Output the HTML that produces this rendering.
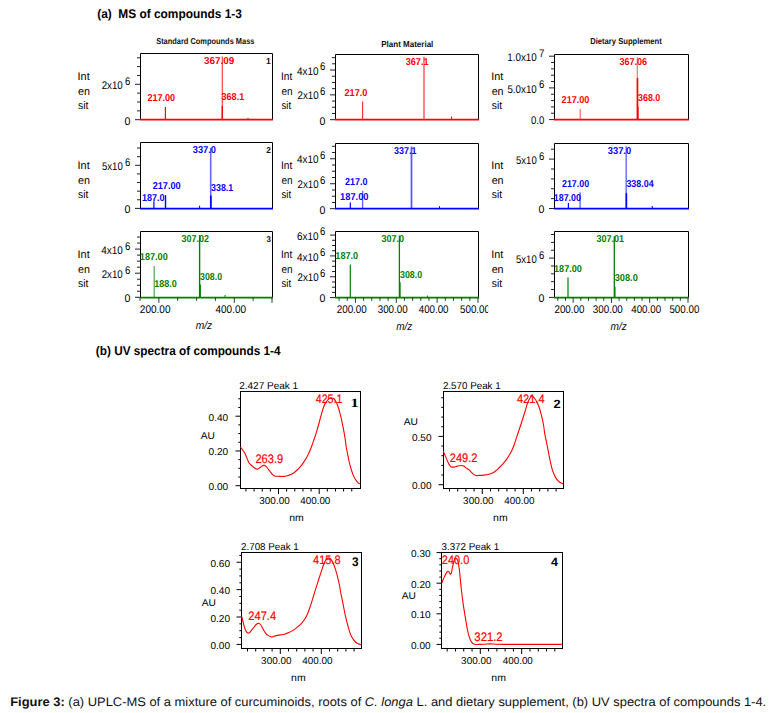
<!DOCTYPE html>
<html><head><meta charset="utf-8"><style>
html,body{margin:0;padding:0;background:#fff;}
text{font-kerning:none;text-rendering:geometricPrecision;}
svg{display:block;font-family:"Liberation Sans",sans-serif;}
</style></head><body>
<svg width="777" height="713" viewBox="0 0 777 713">
<rect width="777" height="713" fill="#fff"/>
<text x="97.21" y="18.10" font-size="12.6" fill="#000" font-weight="bold" textLength="144.62" lengthAdjust="spacingAndGlyphs">(a)&#160; MS of compounds 1-3</text>
<text x="156.19" y="43.90" font-size="8.6" fill="#111" font-weight="bold" textLength="98.22" lengthAdjust="spacingAndGlyphs">Standard Compounds Mass</text>
<text x="381.26" y="46.60" font-size="8.6" fill="#111" font-weight="bold" textLength="52.10" lengthAdjust="spacingAndGlyphs">Plant Material</text>
<text x="590.19" y="43.90" font-size="8.6" fill="#111" font-weight="bold" textLength="71.60" lengthAdjust="spacingAndGlyphs">Dietary Supplement</text>
<text x="95.81" y="355.40" font-size="12.6" fill="#000" font-weight="bold" textLength="184.75" lengthAdjust="spacingAndGlyphs">(b) UV spectra of compounds 1-4</text>
<path d="M140.5,119.6 V53.5 H272.5 V119.6" fill="none" stroke="#000" stroke-width="1"/>
<line x1="135.00" y1="119.70" x2="140.00" y2="119.70" stroke="#222" stroke-width="1"/>
<line x1="137.00" y1="110.85" x2="140.00" y2="110.85" stroke="#222" stroke-width="1"/>
<line x1="137.00" y1="102.00" x2="140.00" y2="102.00" stroke="#222" stroke-width="1"/>
<line x1="137.00" y1="93.15" x2="140.00" y2="93.15" stroke="#222" stroke-width="1"/>
<line x1="135.00" y1="84.30" x2="140.00" y2="84.30" stroke="#222" stroke-width="1"/>
<line x1="137.00" y1="75.45" x2="140.00" y2="75.45" stroke="#222" stroke-width="1"/>
<line x1="137.00" y1="66.60" x2="140.00" y2="66.60" stroke="#222" stroke-width="1"/>
<line x1="137.00" y1="57.75" x2="140.00" y2="57.75" stroke="#222" stroke-width="1"/>
<text x="101.71" y="88.90" font-size="11.0" fill="#000" textLength="21.07" lengthAdjust="spacingAndGlyphs">2x10</text>
<text x="124.92" y="84.70" font-size="11.0" fill="#000" textLength="5.30" lengthAdjust="spacingAndGlyphs">6</text>
<text x="124.48" y="124.50" font-size="11.0" fill="#000" textLength="5.93" lengthAdjust="spacingAndGlyphs">0</text>
<text x="77.60" y="79.80" font-size="11" fill="#000" textLength="12.08" lengthAdjust="spacingAndGlyphs">Int</text>
<text x="77.94" y="94.80" font-size="11" fill="#000" textLength="11.95" lengthAdjust="spacingAndGlyphs">en</text>
<text x="78.11" y="108.90" font-size="11" fill="#000" textLength="10.26" lengthAdjust="spacingAndGlyphs">sit</text>
<line x1="140.00" y1="119.60" x2="273.00" y2="119.60" stroke="#ff0000" stroke-width="1.6"/>
<line x1="165.40" y1="107.10" x2="165.40" y2="119.60" stroke="#ff0000" stroke-width="1.2" stroke-opacity="1"/>
<line x1="222.30" y1="56.40" x2="222.30" y2="119.60" stroke="#ff0000" stroke-width="1.2" stroke-opacity="0.75"/>
<line x1="222.30" y1="105.90" x2="222.30" y2="119.60" stroke="#ff0000" stroke-width="1.4" stroke-opacity="1"/>
<line x1="248.00" y1="117.80" x2="248.00" y2="119.60" stroke="#ff0000" stroke-width="1" stroke-opacity="1"/>
<text x="204.07" y="63.80" font-size="10.0" fill="#ff0000" font-weight="bold" textLength="30.29" lengthAdjust="spacingAndGlyphs">367.09</text>
<text x="147.39" y="101.30" font-size="10.0" fill="#ff0000" font-weight="bold" textLength="27.69" lengthAdjust="spacingAndGlyphs">217.00</text>
<text x="221.49" y="100.30" font-size="10.0" fill="#ff0000" font-weight="bold" textLength="22.76" lengthAdjust="spacingAndGlyphs">368.1</text>
<text x="266.06" y="63.50" font-size="8.6" fill="#111" font-weight="bold" textLength="4.78" lengthAdjust="spacingAndGlyphs">1</text>
<path d="M140.5,208.6 V142.5 H272.5 V208.6" fill="none" stroke="#000" stroke-width="1"/>
<line x1="135.00" y1="208.40" x2="140.00" y2="208.40" stroke="#222" stroke-width="1"/>
<line x1="137.00" y1="199.78" x2="140.00" y2="199.78" stroke="#222" stroke-width="1"/>
<line x1="137.00" y1="191.16" x2="140.00" y2="191.16" stroke="#222" stroke-width="1"/>
<line x1="137.00" y1="182.54" x2="140.00" y2="182.54" stroke="#222" stroke-width="1"/>
<line x1="137.00" y1="173.92" x2="140.00" y2="173.92" stroke="#222" stroke-width="1"/>
<line x1="135.00" y1="165.30" x2="140.00" y2="165.30" stroke="#222" stroke-width="1"/>
<line x1="137.00" y1="156.68" x2="140.00" y2="156.68" stroke="#222" stroke-width="1"/>
<line x1="137.00" y1="148.06" x2="140.00" y2="148.06" stroke="#222" stroke-width="1"/>
<text x="102.02" y="169.90" font-size="11.0" fill="#000" textLength="20.76" lengthAdjust="spacingAndGlyphs">5x10</text>
<text x="124.92" y="165.70" font-size="11.0" fill="#000" textLength="5.30" lengthAdjust="spacingAndGlyphs">6</text>
<text x="124.48" y="213.20" font-size="11.0" fill="#000" textLength="5.93" lengthAdjust="spacingAndGlyphs">0</text>
<text x="77.60" y="169.00" font-size="11" fill="#000" textLength="12.08" lengthAdjust="spacingAndGlyphs">Int</text>
<text x="77.94" y="184.00" font-size="11" fill="#000" textLength="11.95" lengthAdjust="spacingAndGlyphs">en</text>
<text x="78.11" y="198.10" font-size="11" fill="#000" textLength="10.26" lengthAdjust="spacingAndGlyphs">sit</text>
<line x1="140.00" y1="208.60" x2="273.00" y2="208.60" stroke="#0000ff" stroke-width="1.6"/>
<line x1="153.90" y1="201.20" x2="153.90" y2="208.60" stroke="#0000ff" stroke-width="1.2" stroke-opacity="1"/>
<line x1="165.50" y1="195.20" x2="165.50" y2="208.60" stroke="#0000ff" stroke-width="1.4" stroke-opacity="1"/>
<line x1="210.70" y1="147.80" x2="210.70" y2="208.60" stroke="#0000ff" stroke-width="1.6" stroke-opacity="0.6"/>
<line x1="210.90" y1="195.60" x2="210.90" y2="208.60" stroke="#0000ff" stroke-width="1.6" stroke-opacity="1"/>
<line x1="199.60" y1="205.70" x2="199.60" y2="208.60" stroke="#0000ff" stroke-width="1" stroke-opacity="1"/>
<text x="192.79" y="153.00" font-size="10.0" fill="#0000ff" font-weight="bold" textLength="23.19" lengthAdjust="spacingAndGlyphs">337.0</text>
<text x="152.68" y="189.20" font-size="10.0" fill="#0000ff" font-weight="bold" textLength="27.99" lengthAdjust="spacingAndGlyphs">217.00</text>
<text x="142.03" y="201.20" font-size="10.0" fill="#0000ff" font-weight="bold" textLength="22.64" lengthAdjust="spacingAndGlyphs">187.0</text>
<text x="211.00" y="190.90" font-size="10.0" fill="#0000ff" font-weight="bold" textLength="22.25" lengthAdjust="spacingAndGlyphs">338.1</text>
<text x="266.31" y="152.50" font-size="8.6" fill="#111" font-weight="bold" textLength="4.62" lengthAdjust="spacingAndGlyphs">2</text>
<path d="M140.5,297.6 V231.5 H272.5 V297.6" fill="none" stroke="#000" stroke-width="1"/>
<line x1="135.00" y1="297.30" x2="140.00" y2="297.30" stroke="#222" stroke-width="1"/>
<line x1="137.00" y1="291.28" x2="140.00" y2="291.28" stroke="#222" stroke-width="1"/>
<line x1="137.00" y1="285.25" x2="140.00" y2="285.25" stroke="#222" stroke-width="1"/>
<line x1="137.00" y1="279.23" x2="140.00" y2="279.23" stroke="#222" stroke-width="1"/>
<line x1="135.00" y1="273.20" x2="140.00" y2="273.20" stroke="#222" stroke-width="1"/>
<line x1="137.00" y1="267.18" x2="140.00" y2="267.18" stroke="#222" stroke-width="1"/>
<line x1="137.00" y1="261.15" x2="140.00" y2="261.15" stroke="#222" stroke-width="1"/>
<line x1="137.00" y1="255.12" x2="140.00" y2="255.12" stroke="#222" stroke-width="1"/>
<line x1="135.00" y1="249.10" x2="140.00" y2="249.10" stroke="#222" stroke-width="1"/>
<line x1="137.00" y1="243.08" x2="140.00" y2="243.08" stroke="#222" stroke-width="1"/>
<line x1="137.00" y1="237.05" x2="140.00" y2="237.05" stroke="#222" stroke-width="1"/>
<text x="101.17" y="253.70" font-size="11.0" fill="#000" textLength="21.62" lengthAdjust="spacingAndGlyphs">4x10</text>
<text x="124.92" y="249.50" font-size="11.0" fill="#000" textLength="5.30" lengthAdjust="spacingAndGlyphs">6</text>
<text x="101.71" y="277.80" font-size="11.0" fill="#000" textLength="21.07" lengthAdjust="spacingAndGlyphs">2x10</text>
<text x="124.92" y="273.60" font-size="11.0" fill="#000" textLength="5.30" lengthAdjust="spacingAndGlyphs">6</text>
<text x="124.48" y="302.10" font-size="11.0" fill="#000" textLength="5.93" lengthAdjust="spacingAndGlyphs">0</text>
<text x="77.60" y="257.80" font-size="11" fill="#000" textLength="12.08" lengthAdjust="spacingAndGlyphs">Int</text>
<text x="77.94" y="272.80" font-size="11" fill="#000" textLength="11.95" lengthAdjust="spacingAndGlyphs">en</text>
<text x="78.11" y="286.90" font-size="11" fill="#000" textLength="10.26" lengthAdjust="spacingAndGlyphs">sit</text>
<line x1="140.00" y1="297.60" x2="273.00" y2="297.60" stroke="#008000" stroke-width="1.6"/>
<line x1="154.20" y1="266.00" x2="154.20" y2="297.60" stroke="#008000" stroke-width="1.2" stroke-opacity="0.7"/>
<line x1="199.60" y1="235.10" x2="199.60" y2="297.60" stroke="#008000" stroke-width="1.4" stroke-opacity="1"/>
<line x1="200.20" y1="284.60" x2="200.20" y2="297.60" stroke="#008000" stroke-width="1.4" stroke-opacity="1"/>
<line x1="225.10" y1="295.00" x2="225.10" y2="297.60" stroke="#008000" stroke-width="1" stroke-opacity="1"/>
<text x="181.49" y="242.00" font-size="10.0" fill="#008000" font-weight="bold" textLength="27.47" lengthAdjust="spacingAndGlyphs">307.02</text>
<text x="139.82" y="260.30" font-size="10.0" fill="#008000" font-weight="bold" textLength="27.95" lengthAdjust="spacingAndGlyphs">187.00</text>
<text x="154.23" y="286.90" font-size="10.0" fill="#008000" font-weight="bold" textLength="22.64" lengthAdjust="spacingAndGlyphs">188.0</text>
<text x="200.00" y="280.30" font-size="10.0" fill="#008000" font-weight="bold" textLength="22.06" lengthAdjust="spacingAndGlyphs">308.0</text>
<text x="266.42" y="241.50" font-size="8.6" fill="#111" font-weight="bold" textLength="4.48" lengthAdjust="spacingAndGlyphs">3</text>
<path d="M335.5,119.6 V54.5 H478.5 V119.6" fill="none" stroke="#000" stroke-width="1"/>
<line x1="330.00" y1="119.70" x2="335.00" y2="119.70" stroke="#222" stroke-width="1"/>
<line x1="332.00" y1="113.49" x2="335.00" y2="113.49" stroke="#222" stroke-width="1"/>
<line x1="332.00" y1="107.28" x2="335.00" y2="107.28" stroke="#222" stroke-width="1"/>
<line x1="332.00" y1="101.07" x2="335.00" y2="101.07" stroke="#222" stroke-width="1"/>
<line x1="330.00" y1="94.86" x2="335.00" y2="94.86" stroke="#222" stroke-width="1"/>
<line x1="332.00" y1="88.65" x2="335.00" y2="88.65" stroke="#222" stroke-width="1"/>
<line x1="332.00" y1="82.44" x2="335.00" y2="82.44" stroke="#222" stroke-width="1"/>
<line x1="332.00" y1="76.23" x2="335.00" y2="76.23" stroke="#222" stroke-width="1"/>
<line x1="330.00" y1="70.02" x2="335.00" y2="70.02" stroke="#222" stroke-width="1"/>
<line x1="332.00" y1="63.81" x2="335.00" y2="63.81" stroke="#222" stroke-width="1"/>
<line x1="332.00" y1="57.60" x2="335.00" y2="57.60" stroke="#222" stroke-width="1"/>
<text x="296.97" y="74.62" font-size="11.0" fill="#000" textLength="21.62" lengthAdjust="spacingAndGlyphs">4x10</text>
<text x="319.92" y="70.42" font-size="11.0" fill="#000" textLength="5.30" lengthAdjust="spacingAndGlyphs">6</text>
<text x="297.51" y="99.46" font-size="11.0" fill="#000" textLength="21.07" lengthAdjust="spacingAndGlyphs">2x10</text>
<text x="319.92" y="95.26" font-size="11.0" fill="#000" textLength="5.30" lengthAdjust="spacingAndGlyphs">6</text>
<text x="319.48" y="124.50" font-size="11.0" fill="#000" textLength="5.93" lengthAdjust="spacingAndGlyphs">0</text>
<text x="281.07" y="79.80" font-size="11" fill="#000" textLength="11.24" lengthAdjust="spacingAndGlyphs">Int</text>
<text x="281.38" y="94.80" font-size="11" fill="#000" textLength="11.12" lengthAdjust="spacingAndGlyphs">en</text>
<text x="281.53" y="108.90" font-size="11" fill="#000" textLength="9.54" lengthAdjust="spacingAndGlyphs">sit</text>
<line x1="335.00" y1="119.60" x2="479.00" y2="119.60" stroke="#ff0000" stroke-width="1.6"/>
<line x1="362.60" y1="101.40" x2="362.60" y2="119.60" stroke="#ff0000" stroke-width="1.2" stroke-opacity="0.8"/>
<line x1="424.00" y1="56.70" x2="424.00" y2="119.60" stroke="#ff0000" stroke-width="1.2" stroke-opacity="0.8"/>
<line x1="451.60" y1="116.40" x2="451.60" y2="119.60" stroke="#ff0000" stroke-width="1" stroke-opacity="1"/>
<text x="405.69" y="65.10" font-size="10.0" fill="#ff0000" font-weight="bold" textLength="22.86" lengthAdjust="spacingAndGlyphs">367.1</text>
<text x="344.38" y="96.40" font-size="10.0" fill="#ff0000" font-weight="bold" textLength="23.10" lengthAdjust="spacingAndGlyphs">217.0</text>
<path d="M335.5,208.6 V143.5 H478.5 V208.6" fill="none" stroke="#000" stroke-width="1"/>
<line x1="330.00" y1="208.70" x2="335.00" y2="208.70" stroke="#222" stroke-width="1"/>
<line x1="332.00" y1="202.46" x2="335.00" y2="202.46" stroke="#222" stroke-width="1"/>
<line x1="332.00" y1="196.22" x2="335.00" y2="196.22" stroke="#222" stroke-width="1"/>
<line x1="332.00" y1="189.98" x2="335.00" y2="189.98" stroke="#222" stroke-width="1"/>
<line x1="330.00" y1="183.74" x2="335.00" y2="183.74" stroke="#222" stroke-width="1"/>
<line x1="332.00" y1="177.50" x2="335.00" y2="177.50" stroke="#222" stroke-width="1"/>
<line x1="332.00" y1="171.26" x2="335.00" y2="171.26" stroke="#222" stroke-width="1"/>
<line x1="332.00" y1="165.02" x2="335.00" y2="165.02" stroke="#222" stroke-width="1"/>
<line x1="330.00" y1="158.78" x2="335.00" y2="158.78" stroke="#222" stroke-width="1"/>
<line x1="332.00" y1="152.54" x2="335.00" y2="152.54" stroke="#222" stroke-width="1"/>
<line x1="332.00" y1="146.30" x2="335.00" y2="146.30" stroke="#222" stroke-width="1"/>
<text x="296.97" y="163.38" font-size="11.0" fill="#000" textLength="21.62" lengthAdjust="spacingAndGlyphs">4x10</text>
<text x="319.92" y="159.18" font-size="11.0" fill="#000" textLength="5.30" lengthAdjust="spacingAndGlyphs">6</text>
<text x="297.51" y="188.34" font-size="11.0" fill="#000" textLength="21.07" lengthAdjust="spacingAndGlyphs">2x10</text>
<text x="319.92" y="184.14" font-size="11.0" fill="#000" textLength="5.30" lengthAdjust="spacingAndGlyphs">6</text>
<text x="319.48" y="213.50" font-size="11.0" fill="#000" textLength="5.93" lengthAdjust="spacingAndGlyphs">0</text>
<text x="281.07" y="169.00" font-size="11" fill="#000" textLength="11.24" lengthAdjust="spacingAndGlyphs">Int</text>
<text x="281.38" y="184.00" font-size="11" fill="#000" textLength="11.12" lengthAdjust="spacingAndGlyphs">en</text>
<text x="281.53" y="198.10" font-size="11" fill="#000" textLength="9.54" lengthAdjust="spacingAndGlyphs">sit</text>
<line x1="335.00" y1="208.60" x2="479.00" y2="208.60" stroke="#0000ff" stroke-width="1.6"/>
<line x1="350.30" y1="202.50" x2="350.30" y2="208.60" stroke="#0000ff" stroke-width="1.2" stroke-opacity="1"/>
<line x1="362.60" y1="190.80" x2="362.60" y2="208.60" stroke="#0000ff" stroke-width="1.4" stroke-opacity="0.6"/>
<line x1="411.50" y1="146.50" x2="411.50" y2="208.60" stroke="#0000ff" stroke-width="1.8" stroke-opacity="0.65"/>
<line x1="439.50" y1="206.20" x2="439.50" y2="208.60" stroke="#0000ff" stroke-width="1" stroke-opacity="1"/>
<text x="394.10" y="154.00" font-size="10.0" fill="#0000ff" font-weight="bold" textLength="22.35" lengthAdjust="spacingAndGlyphs">337.1</text>
<text x="344.99" y="185.30" font-size="10.0" fill="#0000ff" font-weight="bold" textLength="22.48" lengthAdjust="spacingAndGlyphs">217.0</text>
<text x="340.01" y="200.10" font-size="10.0" fill="#0000ff" font-weight="bold" textLength="28.57" lengthAdjust="spacingAndGlyphs">187.00</text>
<path d="M335.5,297.6 V231.5 H478.5 V297.6" fill="none" stroke="#000" stroke-width="1"/>
<line x1="330.00" y1="297.60" x2="335.00" y2="297.60" stroke="#222" stroke-width="1"/>
<line x1="332.00" y1="292.39" x2="335.00" y2="292.39" stroke="#222" stroke-width="1"/>
<line x1="332.00" y1="287.18" x2="335.00" y2="287.18" stroke="#222" stroke-width="1"/>
<line x1="332.00" y1="281.97" x2="335.00" y2="281.97" stroke="#222" stroke-width="1"/>
<line x1="330.00" y1="276.76" x2="335.00" y2="276.76" stroke="#222" stroke-width="1"/>
<line x1="332.00" y1="271.55" x2="335.00" y2="271.55" stroke="#222" stroke-width="1"/>
<line x1="332.00" y1="266.34" x2="335.00" y2="266.34" stroke="#222" stroke-width="1"/>
<line x1="332.00" y1="261.13" x2="335.00" y2="261.13" stroke="#222" stroke-width="1"/>
<line x1="330.00" y1="255.92" x2="335.00" y2="255.92" stroke="#222" stroke-width="1"/>
<line x1="332.00" y1="250.71" x2="335.00" y2="250.71" stroke="#222" stroke-width="1"/>
<line x1="332.00" y1="245.50" x2="335.00" y2="245.50" stroke="#222" stroke-width="1"/>
<line x1="332.00" y1="240.29" x2="335.00" y2="240.29" stroke="#222" stroke-width="1"/>
<line x1="330.00" y1="235.08" x2="335.00" y2="235.08" stroke="#222" stroke-width="1"/>
<text x="297.10" y="239.68" font-size="11.0" fill="#000" textLength="21.49" lengthAdjust="spacingAndGlyphs">6x10</text>
<text x="319.92" y="235.48" font-size="11.0" fill="#000" textLength="5.30" lengthAdjust="spacingAndGlyphs">6</text>
<text x="296.97" y="260.52" font-size="11.0" fill="#000" textLength="21.62" lengthAdjust="spacingAndGlyphs">4x10</text>
<text x="319.92" y="256.32" font-size="11.0" fill="#000" textLength="5.30" lengthAdjust="spacingAndGlyphs">6</text>
<text x="297.51" y="281.36" font-size="11.0" fill="#000" textLength="21.07" lengthAdjust="spacingAndGlyphs">2x10</text>
<text x="319.92" y="277.16" font-size="11.0" fill="#000" textLength="5.30" lengthAdjust="spacingAndGlyphs">6</text>
<text x="319.48" y="302.40" font-size="11.0" fill="#000" textLength="5.93" lengthAdjust="spacingAndGlyphs">0</text>
<text x="281.07" y="257.80" font-size="11" fill="#000" textLength="11.24" lengthAdjust="spacingAndGlyphs">Int</text>
<text x="281.38" y="272.80" font-size="11" fill="#000" textLength="11.12" lengthAdjust="spacingAndGlyphs">en</text>
<text x="281.53" y="286.90" font-size="11" fill="#000" textLength="9.54" lengthAdjust="spacingAndGlyphs">sit</text>
<line x1="335.00" y1="297.60" x2="479.00" y2="297.60" stroke="#008000" stroke-width="1.6"/>
<line x1="350.30" y1="264.50" x2="350.30" y2="297.60" stroke="#008000" stroke-width="1.2" stroke-opacity="1"/>
<line x1="399.40" y1="235.50" x2="399.40" y2="297.60" stroke="#008000" stroke-width="1.3" stroke-opacity="1"/>
<line x1="400.00" y1="282.20" x2="400.00" y2="297.60" stroke="#008000" stroke-width="1.3" stroke-opacity="1"/>
<line x1="427.40" y1="295.50" x2="427.40" y2="297.60" stroke="#008000" stroke-width="1" stroke-opacity="1"/>
<text x="381.39" y="242.10" font-size="10.0" fill="#008000" font-weight="bold" textLength="22.68" lengthAdjust="spacingAndGlyphs">307.0</text>
<text x="335.32" y="258.90" font-size="10.0" fill="#008000" font-weight="bold" textLength="22.85" lengthAdjust="spacingAndGlyphs">187.0</text>
<text x="400.00" y="277.90" font-size="10.0" fill="#008000" font-weight="bold" textLength="22.17" lengthAdjust="spacingAndGlyphs">308.0</text>
<path d="M554.5,119.6 V54.5 H688.5 V119.6" fill="none" stroke="#000" stroke-width="1"/>
<line x1="549.00" y1="119.60" x2="554.00" y2="119.60" stroke="#222" stroke-width="1"/>
<line x1="551.00" y1="113.26" x2="554.00" y2="113.26" stroke="#222" stroke-width="1"/>
<line x1="551.00" y1="106.92" x2="554.00" y2="106.92" stroke="#222" stroke-width="1"/>
<line x1="551.00" y1="100.58" x2="554.00" y2="100.58" stroke="#222" stroke-width="1"/>
<line x1="551.00" y1="94.24" x2="554.00" y2="94.24" stroke="#222" stroke-width="1"/>
<line x1="549.00" y1="87.90" x2="554.00" y2="87.90" stroke="#222" stroke-width="1"/>
<line x1="551.00" y1="81.56" x2="554.00" y2="81.56" stroke="#222" stroke-width="1"/>
<line x1="551.00" y1="75.22" x2="554.00" y2="75.22" stroke="#222" stroke-width="1"/>
<line x1="551.00" y1="68.88" x2="554.00" y2="68.88" stroke="#222" stroke-width="1"/>
<line x1="551.00" y1="62.54" x2="554.00" y2="62.54" stroke="#222" stroke-width="1"/>
<line x1="549.00" y1="56.20" x2="554.00" y2="56.20" stroke="#222" stroke-width="1"/>
<text x="507.25" y="60.80" font-size="11.0" fill="#000" textLength="29.53" lengthAdjust="spacingAndGlyphs">1.0x10</text>
<text x="538.90" y="56.60" font-size="11.0" fill="#000" textLength="5.38" lengthAdjust="spacingAndGlyphs">7</text>
<text x="507.41" y="92.50" font-size="11.0" fill="#000" textLength="29.37" lengthAdjust="spacingAndGlyphs">5.0x10</text>
<text x="538.92" y="88.30" font-size="11.0" fill="#000" textLength="5.30" lengthAdjust="spacingAndGlyphs">6</text>
<text x="531.02" y="124.40" font-size="11.0" fill="#000" textLength="13.35" lengthAdjust="spacingAndGlyphs">0.0</text>
<text x="491.30" y="79.80" font-size="11" fill="#000" textLength="12.08" lengthAdjust="spacingAndGlyphs">Int</text>
<text x="491.64" y="94.80" font-size="11" fill="#000" textLength="11.95" lengthAdjust="spacingAndGlyphs">en</text>
<text x="491.81" y="108.90" font-size="11" fill="#000" textLength="10.26" lengthAdjust="spacingAndGlyphs">sit</text>
<line x1="554.00" y1="119.60" x2="689.00" y2="119.60" stroke="#ff0000" stroke-width="1.6"/>
<line x1="580.30" y1="108.90" x2="580.30" y2="119.60" stroke="#ff0000" stroke-width="1.4" stroke-opacity="0.5"/>
<line x1="637.30" y1="57.30" x2="637.30" y2="119.60" stroke="#ff0000" stroke-width="1.2" stroke-opacity="0.55"/>
<line x1="637.50" y1="77.90" x2="637.50" y2="119.60" stroke="#ff0000" stroke-width="1.6" stroke-opacity="1"/>
<line x1="638.00" y1="106.60" x2="638.00" y2="119.60" stroke="#ff0000" stroke-width="1.2" stroke-opacity="1"/>
<text x="619.39" y="65.10" font-size="10.0" fill="#ff0000" font-weight="bold" textLength="27.74" lengthAdjust="spacingAndGlyphs">367.06</text>
<text x="638.00" y="101.40" font-size="10.0" fill="#ff0000" font-weight="bold" textLength="22.27" lengthAdjust="spacingAndGlyphs">368.0</text>
<text x="561.59" y="103.10" font-size="10.0" fill="#ff0000" font-weight="bold" textLength="27.79" lengthAdjust="spacingAndGlyphs">217.00</text>
<path d="M554.5,208.6 V143.5 H688.5 V208.6" fill="none" stroke="#000" stroke-width="1"/>
<line x1="549.00" y1="208.50" x2="554.00" y2="208.50" stroke="#222" stroke-width="1"/>
<line x1="551.00" y1="198.62" x2="554.00" y2="198.62" stroke="#222" stroke-width="1"/>
<line x1="551.00" y1="188.74" x2="554.00" y2="188.74" stroke="#222" stroke-width="1"/>
<line x1="551.00" y1="178.86" x2="554.00" y2="178.86" stroke="#222" stroke-width="1"/>
<line x1="551.00" y1="168.98" x2="554.00" y2="168.98" stroke="#222" stroke-width="1"/>
<line x1="549.00" y1="159.10" x2="554.00" y2="159.10" stroke="#222" stroke-width="1"/>
<line x1="551.00" y1="149.22" x2="554.00" y2="149.22" stroke="#222" stroke-width="1"/>
<text x="516.02" y="163.70" font-size="11.0" fill="#000" textLength="20.76" lengthAdjust="spacingAndGlyphs">5x10</text>
<text x="538.92" y="159.50" font-size="11.0" fill="#000" textLength="5.30" lengthAdjust="spacingAndGlyphs">6</text>
<text x="538.48" y="213.30" font-size="11.0" fill="#000" textLength="5.93" lengthAdjust="spacingAndGlyphs">0</text>
<text x="491.30" y="169.00" font-size="11" fill="#000" textLength="12.08" lengthAdjust="spacingAndGlyphs">Int</text>
<text x="491.64" y="184.00" font-size="11" fill="#000" textLength="11.95" lengthAdjust="spacingAndGlyphs">en</text>
<text x="491.81" y="198.10" font-size="11" fill="#000" textLength="10.26" lengthAdjust="spacingAndGlyphs">sit</text>
<line x1="554.00" y1="208.60" x2="689.00" y2="208.60" stroke="#0000ff" stroke-width="1.6"/>
<line x1="568.40" y1="203.10" x2="568.40" y2="208.60" stroke="#0000ff" stroke-width="1.2" stroke-opacity="1"/>
<line x1="580.10" y1="192.30" x2="580.10" y2="208.60" stroke="#0000ff" stroke-width="1.4" stroke-opacity="0.6"/>
<line x1="626.20" y1="146.30" x2="626.20" y2="208.60" stroke="#0000ff" stroke-width="1.4" stroke-opacity="0.6"/>
<line x1="626.40" y1="193.20" x2="626.40" y2="208.60" stroke="#0000ff" stroke-width="1.6" stroke-opacity="1"/>
<line x1="652.30" y1="206.00" x2="652.30" y2="208.60" stroke="#0000ff" stroke-width="1" stroke-opacity="1"/>
<text x="607.79" y="154.00" font-size="10.0" fill="#0000ff" font-weight="bold" textLength="23.30" lengthAdjust="spacingAndGlyphs">337.0</text>
<text x="626.40" y="187.20" font-size="10.0" fill="#0000ff" font-weight="bold" textLength="27.25" lengthAdjust="spacingAndGlyphs">338.04</text>
<text x="561.99" y="186.50" font-size="10.0" fill="#0000ff" font-weight="bold" textLength="27.07" lengthAdjust="spacingAndGlyphs">217.00</text>
<text x="553.84" y="200.90" font-size="10.0" fill="#0000ff" font-weight="bold" textLength="27.12" lengthAdjust="spacingAndGlyphs">187.00</text>
<path d="M554.5,297.6 V231.5 H688.5 V297.6" fill="none" stroke="#000" stroke-width="1"/>
<line x1="549.00" y1="297.40" x2="554.00" y2="297.40" stroke="#222" stroke-width="1"/>
<line x1="551.00" y1="289.54" x2="554.00" y2="289.54" stroke="#222" stroke-width="1"/>
<line x1="551.00" y1="281.68" x2="554.00" y2="281.68" stroke="#222" stroke-width="1"/>
<line x1="551.00" y1="273.82" x2="554.00" y2="273.82" stroke="#222" stroke-width="1"/>
<line x1="551.00" y1="265.96" x2="554.00" y2="265.96" stroke="#222" stroke-width="1"/>
<line x1="549.00" y1="258.10" x2="554.00" y2="258.10" stroke="#222" stroke-width="1"/>
<line x1="551.00" y1="250.24" x2="554.00" y2="250.24" stroke="#222" stroke-width="1"/>
<line x1="551.00" y1="242.38" x2="554.00" y2="242.38" stroke="#222" stroke-width="1"/>
<line x1="551.00" y1="234.52" x2="554.00" y2="234.52" stroke="#222" stroke-width="1"/>
<text x="516.02" y="262.70" font-size="11.0" fill="#000" textLength="20.76" lengthAdjust="spacingAndGlyphs">5x10</text>
<text x="538.92" y="258.50" font-size="11.0" fill="#000" textLength="5.30" lengthAdjust="spacingAndGlyphs">6</text>
<text x="538.48" y="302.20" font-size="11.0" fill="#000" textLength="5.93" lengthAdjust="spacingAndGlyphs">0</text>
<text x="491.30" y="257.80" font-size="11" fill="#000" textLength="12.08" lengthAdjust="spacingAndGlyphs">Int</text>
<text x="491.64" y="272.80" font-size="11" fill="#000" textLength="11.95" lengthAdjust="spacingAndGlyphs">en</text>
<text x="491.81" y="286.90" font-size="11" fill="#000" textLength="10.26" lengthAdjust="spacingAndGlyphs">sit</text>
<line x1="554.00" y1="297.60" x2="689.00" y2="297.60" stroke="#008000" stroke-width="1.6"/>
<line x1="568.00" y1="277.60" x2="568.00" y2="297.60" stroke="#008000" stroke-width="1.2" stroke-opacity="1"/>
<line x1="614.30" y1="236.20" x2="614.30" y2="297.60" stroke="#008000" stroke-width="1.3" stroke-opacity="1"/>
<line x1="614.90" y1="286.70" x2="614.90" y2="297.60" stroke="#008000" stroke-width="1.3" stroke-opacity="1"/>
<text x="596.59" y="242.00" font-size="10.0" fill="#008000" font-weight="bold" textLength="27.56" lengthAdjust="spacingAndGlyphs">307.01</text>
<text x="554.03" y="272.20" font-size="10.0" fill="#008000" font-weight="bold" textLength="27.85" lengthAdjust="spacingAndGlyphs">187.00</text>
<text x="614.69" y="281.30" font-size="10.0" fill="#008000" font-weight="bold" textLength="23.09" lengthAdjust="spacingAndGlyphs">308.0</text>
<line x1="140.00" y1="297.60" x2="140.00" y2="300.80" stroke="#333" stroke-width="1"/>
<line x1="158.86" y1="297.60" x2="158.86" y2="302.90" stroke="#333" stroke-width="1"/>
<line x1="177.71" y1="297.60" x2="177.71" y2="300.80" stroke="#333" stroke-width="1"/>
<line x1="196.57" y1="297.60" x2="196.57" y2="300.80" stroke="#333" stroke-width="1"/>
<line x1="215.43" y1="297.60" x2="215.43" y2="300.80" stroke="#333" stroke-width="1"/>
<line x1="234.29" y1="297.60" x2="234.29" y2="302.90" stroke="#333" stroke-width="1"/>
<line x1="253.14" y1="297.60" x2="253.14" y2="300.80" stroke="#333" stroke-width="1"/>
<line x1="272.00" y1="297.60" x2="272.00" y2="302.90" stroke="#333" stroke-width="1"/>
<text x="139.85" y="313.00" font-size="11.0" fill="#000" textLength="30.70" lengthAdjust="spacingAndGlyphs">200.00</text>
<text x="215.56" y="313.00" font-size="11.0" fill="#000" textLength="30.42" lengthAdjust="spacingAndGlyphs">400.00</text>
<line x1="339.09" y1="297.60" x2="339.09" y2="300.80" stroke="#333" stroke-width="1"/>
<line x1="347.26" y1="297.60" x2="347.26" y2="300.80" stroke="#333" stroke-width="1"/>
<line x1="355.43" y1="297.60" x2="355.43" y2="302.90" stroke="#333" stroke-width="1"/>
<line x1="363.60" y1="297.60" x2="363.60" y2="300.80" stroke="#333" stroke-width="1"/>
<line x1="371.77" y1="297.60" x2="371.77" y2="300.80" stroke="#333" stroke-width="1"/>
<line x1="379.94" y1="297.60" x2="379.94" y2="300.80" stroke="#333" stroke-width="1"/>
<line x1="388.11" y1="297.60" x2="388.11" y2="300.80" stroke="#333" stroke-width="1"/>
<line x1="396.29" y1="297.60" x2="396.29" y2="302.90" stroke="#333" stroke-width="1"/>
<line x1="404.46" y1="297.60" x2="404.46" y2="300.80" stroke="#333" stroke-width="1"/>
<line x1="412.63" y1="297.60" x2="412.63" y2="300.80" stroke="#333" stroke-width="1"/>
<line x1="420.80" y1="297.60" x2="420.80" y2="300.80" stroke="#333" stroke-width="1"/>
<line x1="428.97" y1="297.60" x2="428.97" y2="300.80" stroke="#333" stroke-width="1"/>
<line x1="437.14" y1="297.60" x2="437.14" y2="302.90" stroke="#333" stroke-width="1"/>
<line x1="445.31" y1="297.60" x2="445.31" y2="300.80" stroke="#333" stroke-width="1"/>
<line x1="453.49" y1="297.60" x2="453.49" y2="300.80" stroke="#333" stroke-width="1"/>
<line x1="461.66" y1="297.60" x2="461.66" y2="300.80" stroke="#333" stroke-width="1"/>
<line x1="469.83" y1="297.60" x2="469.83" y2="300.80" stroke="#333" stroke-width="1"/>
<line x1="478.00" y1="297.60" x2="478.00" y2="302.90" stroke="#333" stroke-width="1"/>
<text x="336.73" y="312.80" font-size="11.0" fill="#000" textLength="30.08" lengthAdjust="spacingAndGlyphs">200.00</text>
<text x="377.71" y="312.80" font-size="11.0" fill="#000" textLength="29.96" lengthAdjust="spacingAndGlyphs">300.00</text>
<text x="418.72" y="312.80" font-size="11.0" fill="#000" textLength="29.80" lengthAdjust="spacingAndGlyphs">400.00</text>
<clipPath id="c500"><rect x="440" y="290" width="48.2" height="40"/></clipPath><g clip-path="url(#c500)">
<text x="460.01" y="312.80" font-size="11.0" fill="#000" textLength="29.98" lengthAdjust="spacingAndGlyphs">500.00</text>
</g>
<line x1="557.83" y1="297.60" x2="557.83" y2="300.80" stroke="#333" stroke-width="1"/>
<line x1="565.49" y1="297.60" x2="565.49" y2="300.80" stroke="#333" stroke-width="1"/>
<line x1="573.14" y1="297.60" x2="573.14" y2="302.90" stroke="#333" stroke-width="1"/>
<line x1="580.80" y1="297.60" x2="580.80" y2="300.80" stroke="#333" stroke-width="1"/>
<line x1="588.46" y1="297.60" x2="588.46" y2="300.80" stroke="#333" stroke-width="1"/>
<line x1="596.11" y1="297.60" x2="596.11" y2="300.80" stroke="#333" stroke-width="1"/>
<line x1="603.77" y1="297.60" x2="603.77" y2="300.80" stroke="#333" stroke-width="1"/>
<line x1="611.43" y1="297.60" x2="611.43" y2="302.90" stroke="#333" stroke-width="1"/>
<line x1="619.09" y1="297.60" x2="619.09" y2="300.80" stroke="#333" stroke-width="1"/>
<line x1="626.74" y1="297.60" x2="626.74" y2="300.80" stroke="#333" stroke-width="1"/>
<line x1="634.40" y1="297.60" x2="634.40" y2="300.80" stroke="#333" stroke-width="1"/>
<line x1="642.06" y1="297.60" x2="642.06" y2="300.80" stroke="#333" stroke-width="1"/>
<line x1="649.71" y1="297.60" x2="649.71" y2="302.90" stroke="#333" stroke-width="1"/>
<line x1="657.37" y1="297.60" x2="657.37" y2="300.80" stroke="#333" stroke-width="1"/>
<line x1="665.03" y1="297.60" x2="665.03" y2="300.80" stroke="#333" stroke-width="1"/>
<line x1="672.69" y1="297.60" x2="672.69" y2="300.80" stroke="#333" stroke-width="1"/>
<line x1="680.34" y1="297.60" x2="680.34" y2="300.80" stroke="#333" stroke-width="1"/>
<line x1="688.00" y1="297.60" x2="688.00" y2="302.90" stroke="#333" stroke-width="1"/>
<text x="554.45" y="312.80" font-size="11.0" fill="#000" textLength="30.08" lengthAdjust="spacingAndGlyphs">200.00</text>
<text x="592.86" y="312.80" font-size="11.0" fill="#000" textLength="29.96" lengthAdjust="spacingAndGlyphs">300.00</text>
<text x="631.29" y="312.80" font-size="11.0" fill="#000" textLength="29.80" lengthAdjust="spacingAndGlyphs">400.00</text>
<text x="669.41" y="312.80" font-size="11.0" fill="#000" textLength="29.98" lengthAdjust="spacingAndGlyphs">500.00</text>
<text x="195.63" y="329.30" font-size="11.0" fill="#000" font-style="italic" textLength="16.51" lengthAdjust="spacingAndGlyphs">m/z</text>
<text x="396.14" y="329.50" font-size="11.0" fill="#000" font-style="italic" textLength="16.00" lengthAdjust="spacingAndGlyphs">m/z</text>
<text x="610.53" y="329.50" font-size="11.0" fill="#000" font-style="italic" textLength="16.20" lengthAdjust="spacingAndGlyphs">m/z</text>
<rect x="240.5" y="391.5" width="120" height="97" fill="none" stroke="#000" stroke-width="1"/>
<text x="239.20" y="388.60" font-size="10.0" fill="#000" textLength="58.89" lengthAdjust="spacingAndGlyphs">2.427 Peak 1</text>
<line x1="235.50" y1="485.70" x2="240.50" y2="485.70" stroke="#000" stroke-width="1"/>
<line x1="238.30" y1="477.01" x2="240.50" y2="477.01" stroke="#000" stroke-width="1"/>
<line x1="238.30" y1="468.32" x2="240.50" y2="468.32" stroke="#000" stroke-width="1"/>
<line x1="238.30" y1="459.64" x2="240.50" y2="459.64" stroke="#000" stroke-width="1"/>
<line x1="235.50" y1="450.95" x2="240.50" y2="450.95" stroke="#000" stroke-width="1"/>
<line x1="238.30" y1="442.26" x2="240.50" y2="442.26" stroke="#000" stroke-width="1"/>
<line x1="238.30" y1="433.57" x2="240.50" y2="433.57" stroke="#000" stroke-width="1"/>
<line x1="238.30" y1="424.89" x2="240.50" y2="424.89" stroke="#000" stroke-width="1"/>
<line x1="235.50" y1="416.20" x2="240.50" y2="416.20" stroke="#000" stroke-width="1"/>
<line x1="238.30" y1="407.51" x2="240.50" y2="407.51" stroke="#000" stroke-width="1"/>
<line x1="238.30" y1="398.82" x2="240.50" y2="398.82" stroke="#000" stroke-width="1"/>
<text x="208.61" y="490.20" font-size="10.0" fill="#000" textLength="19.59" lengthAdjust="spacingAndGlyphs">0.00</text>
<text x="208.61" y="455.45" font-size="10.0" fill="#000" textLength="19.59" lengthAdjust="spacingAndGlyphs">0.20</text>
<text x="208.61" y="420.70" font-size="10.0" fill="#000" textLength="19.59" lengthAdjust="spacingAndGlyphs">0.40</text>
<text x="200.78" y="438.60" font-size="10.0" fill="#000" textLength="14.21" lengthAdjust="spacingAndGlyphs">AU</text>
<line x1="245.94" y1="488.50" x2="245.94" y2="491.50" stroke="#000" stroke-width="1"/>
<line x1="254.08" y1="488.50" x2="254.08" y2="491.50" stroke="#000" stroke-width="1"/>
<line x1="262.22" y1="488.50" x2="262.22" y2="491.50" stroke="#000" stroke-width="1"/>
<line x1="270.36" y1="488.50" x2="270.36" y2="491.50" stroke="#000" stroke-width="1"/>
<line x1="278.50" y1="488.50" x2="278.50" y2="494.00" stroke="#000" stroke-width="1"/>
<line x1="286.64" y1="488.50" x2="286.64" y2="491.50" stroke="#000" stroke-width="1"/>
<line x1="294.78" y1="488.50" x2="294.78" y2="491.50" stroke="#000" stroke-width="1"/>
<line x1="302.92" y1="488.50" x2="302.92" y2="491.50" stroke="#000" stroke-width="1"/>
<line x1="311.06" y1="488.50" x2="311.06" y2="491.50" stroke="#000" stroke-width="1"/>
<line x1="319.20" y1="488.50" x2="319.20" y2="494.00" stroke="#000" stroke-width="1"/>
<line x1="327.34" y1="488.50" x2="327.34" y2="491.50" stroke="#000" stroke-width="1"/>
<line x1="335.48" y1="488.50" x2="335.48" y2="491.50" stroke="#000" stroke-width="1"/>
<line x1="343.62" y1="488.50" x2="343.62" y2="491.50" stroke="#000" stroke-width="1"/>
<line x1="351.76" y1="488.50" x2="351.76" y2="491.50" stroke="#000" stroke-width="1"/>
<text x="259.32" y="503.80" font-size="10.0" fill="#000" textLength="30.37" lengthAdjust="spacingAndGlyphs">300.00</text>
<text x="300.17" y="503.80" font-size="10.0" fill="#000" textLength="30.21" lengthAdjust="spacingAndGlyphs">400.00</text>
<text x="289.15" y="520.80" font-size="10.0" fill="#000" textLength="14.59" lengthAdjust="spacingAndGlyphs">nm</text>
<path d="M240.40,447.00 C240.65,447.33 241.37,448.30 241.90,449.00 C242.43,449.70 243.08,450.45 243.60,451.20 C244.12,451.95 244.53,452.57 245.00,453.50 C245.47,454.43 245.93,455.68 246.40,456.80 C246.87,457.92 247.33,459.17 247.80,460.20 C248.27,461.23 248.58,462.12 249.20,463.00 C249.82,463.88 250.65,464.70 251.50,465.50 C252.35,466.30 253.37,467.18 254.30,467.80 C255.23,468.42 256.27,469.15 257.10,469.20 C257.93,469.25 258.55,468.57 259.30,468.10 C260.05,467.63 260.85,466.85 261.60,466.40 C262.35,465.95 263.15,465.48 263.80,465.40 C264.45,465.32 264.90,465.47 265.50,465.90 C266.10,466.33 266.62,467.05 267.40,468.00 C268.18,468.95 269.38,470.55 270.20,471.60 C271.02,472.65 271.58,473.57 272.30,474.30 C273.02,475.03 273.42,475.67 274.50,476.00 C275.58,476.33 277.37,476.23 278.80,476.30 C280.23,476.37 281.65,476.50 283.10,476.40 C284.55,476.30 286.23,476.00 287.50,475.70 C288.77,475.40 289.62,475.10 290.70,474.60 C291.78,474.10 292.92,473.47 294.00,472.70 C295.08,471.93 296.17,470.98 297.20,470.00 C298.23,469.02 299.20,467.98 300.20,466.80 C301.20,465.62 302.08,464.53 303.20,462.90 C304.32,461.27 305.63,459.40 306.90,457.00 C308.17,454.60 309.65,451.30 310.80,448.50 C311.95,445.70 312.82,443.07 313.80,440.20 C314.78,437.33 315.80,434.25 316.70,431.30 C317.60,428.35 318.38,425.45 319.20,422.50 C320.02,419.55 320.78,416.38 321.60,413.60 C322.42,410.82 323.37,407.65 324.10,405.80 C324.83,403.95 325.27,403.60 326.00,402.50 C326.73,401.40 327.67,399.95 328.50,399.20 C329.33,398.45 330.13,398.12 331.00,398.00 C331.87,397.88 332.85,397.83 333.70,398.50 C334.55,399.17 335.40,400.72 336.10,402.00 C336.80,403.28 337.32,404.57 337.90,406.20 C338.48,407.83 339.08,409.93 339.60,411.80 C340.12,413.67 340.53,415.40 341.00,417.40 C341.47,419.40 341.93,421.57 342.40,423.80 C342.87,426.03 343.38,428.58 343.80,430.80 C344.22,433.02 344.60,435.23 344.90,437.10 C345.20,438.97 345.38,440.35 345.60,442.00 C345.82,443.65 345.87,445.00 346.20,447.00 C346.53,449.00 347.13,451.67 347.60,454.00 C348.07,456.33 348.47,458.67 349.00,461.00 C349.53,463.33 350.15,465.77 350.80,468.00 C351.45,470.23 352.15,472.52 352.90,474.40 C353.65,476.28 354.43,477.90 355.30,479.30 C356.17,480.70 357.28,482.02 358.10,482.80 C358.92,483.58 359.85,483.80 360.20,484.00" fill="none" stroke="#ff0000" stroke-width="1.1"/>
<text x="255.44" y="462.70" font-size="12.4" fill="#ff0000" textLength="27.68" lengthAdjust="spacingAndGlyphs" stroke="#ff0000" stroke-width="0.2">263.9</text>
<text x="315.76" y="402.60" font-size="12.4" fill="#ff0000" textLength="26.66" lengthAdjust="spacingAndGlyphs" stroke="#ff0000" stroke-width="0.2">425.1</text>
<text x="350.59" y="406.70" font-size="12.6" fill="#000" font-weight="bold" font-family="Liberation Serif" textLength="8.15" lengthAdjust="spacingAndGlyphs">1</text>
<rect x="443.5" y="391.5" width="120" height="97" fill="none" stroke="#000" stroke-width="1"/>
<text x="442.91" y="388.60" font-size="10.0" fill="#000" textLength="57.77" lengthAdjust="spacingAndGlyphs">2.570 Peak 1</text>
<line x1="438.50" y1="484.70" x2="443.50" y2="484.70" stroke="#000" stroke-width="1"/>
<line x1="441.30" y1="475.04" x2="443.50" y2="475.04" stroke="#000" stroke-width="1"/>
<line x1="441.30" y1="465.38" x2="443.50" y2="465.38" stroke="#000" stroke-width="1"/>
<line x1="441.30" y1="455.72" x2="443.50" y2="455.72" stroke="#000" stroke-width="1"/>
<line x1="441.30" y1="446.06" x2="443.50" y2="446.06" stroke="#000" stroke-width="1"/>
<line x1="438.50" y1="436.40" x2="443.50" y2="436.40" stroke="#000" stroke-width="1"/>
<line x1="441.30" y1="426.74" x2="443.50" y2="426.74" stroke="#000" stroke-width="1"/>
<line x1="441.30" y1="417.08" x2="443.50" y2="417.08" stroke="#000" stroke-width="1"/>
<line x1="441.30" y1="407.42" x2="443.50" y2="407.42" stroke="#000" stroke-width="1"/>
<line x1="441.30" y1="397.76" x2="443.50" y2="397.76" stroke="#000" stroke-width="1"/>
<text x="411.91" y="489.20" font-size="10.0" fill="#000" textLength="19.59" lengthAdjust="spacingAndGlyphs">0.00</text>
<text x="411.91" y="440.90" font-size="10.0" fill="#000" textLength="19.59" lengthAdjust="spacingAndGlyphs">0.50</text>
<text x="403.78" y="425.10" font-size="10.0" fill="#000" textLength="14.21" lengthAdjust="spacingAndGlyphs">AU</text>
<line x1="449.50" y1="488.50" x2="449.50" y2="491.50" stroke="#000" stroke-width="1"/>
<line x1="457.70" y1="488.50" x2="457.70" y2="491.50" stroke="#000" stroke-width="1"/>
<line x1="465.90" y1="488.50" x2="465.90" y2="491.50" stroke="#000" stroke-width="1"/>
<line x1="474.10" y1="488.50" x2="474.10" y2="491.50" stroke="#000" stroke-width="1"/>
<line x1="482.30" y1="488.50" x2="482.30" y2="494.00" stroke="#000" stroke-width="1"/>
<line x1="490.50" y1="488.50" x2="490.50" y2="491.50" stroke="#000" stroke-width="1"/>
<line x1="498.70" y1="488.50" x2="498.70" y2="491.50" stroke="#000" stroke-width="1"/>
<line x1="506.90" y1="488.50" x2="506.90" y2="491.50" stroke="#000" stroke-width="1"/>
<line x1="515.10" y1="488.50" x2="515.10" y2="491.50" stroke="#000" stroke-width="1"/>
<line x1="523.30" y1="488.50" x2="523.30" y2="494.00" stroke="#000" stroke-width="1"/>
<line x1="531.50" y1="488.50" x2="531.50" y2="491.50" stroke="#000" stroke-width="1"/>
<line x1="539.70" y1="488.50" x2="539.70" y2="491.50" stroke="#000" stroke-width="1"/>
<line x1="547.90" y1="488.50" x2="547.90" y2="491.50" stroke="#000" stroke-width="1"/>
<line x1="556.10" y1="488.50" x2="556.10" y2="491.50" stroke="#000" stroke-width="1"/>
<text x="463.12" y="503.80" font-size="10.0" fill="#000" textLength="30.37" lengthAdjust="spacingAndGlyphs">300.00</text>
<text x="504.27" y="503.80" font-size="10.0" fill="#000" textLength="30.21" lengthAdjust="spacingAndGlyphs">400.00</text>
<text x="493.10" y="520.80" font-size="10.0" fill="#000" textLength="14.59" lengthAdjust="spacingAndGlyphs">nm</text>
<path d="M443.30,451.20 C443.52,451.72 444.13,453.18 444.60,454.30 C445.07,455.42 445.58,456.70 446.10,457.90 C446.62,459.10 447.18,460.38 447.70,461.50 C448.22,462.62 448.60,463.70 449.20,464.60 C449.80,465.50 450.52,466.48 451.30,466.90 C452.08,467.32 453.05,467.18 453.90,467.10 C454.75,467.02 455.55,466.62 456.40,466.40 C457.25,466.18 458.13,465.95 459.00,465.80 C459.87,465.65 460.82,465.45 461.60,465.50 C462.38,465.55 462.93,465.70 463.70,466.10 C464.47,466.50 465.35,467.30 466.20,467.90 C467.05,468.50 467.93,468.97 468.80,469.70 C469.67,470.43 470.53,471.48 471.40,472.30 C472.27,473.12 473.15,474.05 474.00,474.60 C474.85,475.15 475.65,475.47 476.50,475.60 C477.35,475.73 477.92,475.48 479.10,475.40 C480.28,475.32 481.92,475.30 483.60,475.10 C485.28,474.90 487.70,474.53 489.20,474.20 C490.70,473.87 491.47,473.70 492.60,473.10 C493.73,472.50 494.88,471.53 496.00,470.60 C497.12,469.67 498.18,468.58 499.30,467.50 C500.42,466.42 501.58,465.32 502.70,464.10 C503.82,462.88 504.97,461.60 506.00,460.20 C507.03,458.80 507.95,457.28 508.90,455.70 C509.85,454.12 510.85,452.43 511.70,450.70 C512.55,448.97 513.13,447.70 514.00,445.30 C514.87,442.90 515.97,439.10 516.90,436.30 C517.83,433.50 518.70,431.20 519.60,428.50 C520.50,425.80 521.40,422.92 522.30,420.10 C523.20,417.28 524.17,414.30 525.00,411.60 C525.83,408.90 526.52,406.08 527.30,403.90 C528.08,401.72 528.92,399.82 529.70,398.50 C530.48,397.18 531.17,396.00 532.00,396.00 C532.83,396.00 533.87,397.45 534.70,398.50 C535.53,399.55 536.23,400.77 537.00,402.30 C537.77,403.83 538.67,405.90 539.30,407.70 C539.93,409.50 540.28,411.17 540.80,413.10 C541.32,415.03 541.92,417.15 542.40,419.30 C542.88,421.45 543.30,423.53 543.70,426.00 C544.10,428.47 544.30,431.23 544.80,434.10 C545.30,436.97 546.08,440.15 546.70,443.20 C547.32,446.25 547.90,449.35 548.50,452.40 C549.10,455.45 549.62,458.47 550.30,461.50 C550.98,464.53 551.68,467.87 552.60,470.60 C553.52,473.33 554.67,476.00 555.80,477.90 C556.93,479.80 558.18,481.00 559.40,482.00 C560.62,483.00 562.48,483.58 563.10,483.90" fill="none" stroke="#ff0000" stroke-width="1.1"/>
<text x="449.85" y="461.60" font-size="12.4" fill="#ff0000" textLength="27.61" lengthAdjust="spacingAndGlyphs" stroke="#ff0000" stroke-width="0.2">249.2</text>
<text x="516.95" y="402.60" font-size="12.4" fill="#ff0000" textLength="27.68" lengthAdjust="spacingAndGlyphs" stroke="#ff0000" stroke-width="0.2">421.4</text>
<text x="553.45" y="407.50" font-size="12" fill="#000" font-weight="bold" textLength="7.16" lengthAdjust="spacingAndGlyphs">2</text>
<rect x="241.5" y="552.5" width="120" height="96" fill="none" stroke="#000" stroke-width="1"/>
<text x="241.11" y="549.60" font-size="10.0" fill="#000" textLength="57.57" lengthAdjust="spacingAndGlyphs">2.708 Peak 1</text>
<line x1="236.50" y1="644.40" x2="241.50" y2="644.40" stroke="#000" stroke-width="1"/>
<line x1="239.30" y1="637.55" x2="241.50" y2="637.55" stroke="#000" stroke-width="1"/>
<line x1="239.30" y1="630.71" x2="241.50" y2="630.71" stroke="#000" stroke-width="1"/>
<line x1="239.30" y1="623.87" x2="241.50" y2="623.87" stroke="#000" stroke-width="1"/>
<line x1="236.50" y1="617.02" x2="241.50" y2="617.02" stroke="#000" stroke-width="1"/>
<line x1="239.30" y1="610.17" x2="241.50" y2="610.17" stroke="#000" stroke-width="1"/>
<line x1="239.30" y1="603.33" x2="241.50" y2="603.33" stroke="#000" stroke-width="1"/>
<line x1="239.30" y1="596.49" x2="241.50" y2="596.49" stroke="#000" stroke-width="1"/>
<line x1="236.50" y1="589.64" x2="241.50" y2="589.64" stroke="#000" stroke-width="1"/>
<line x1="239.30" y1="582.79" x2="241.50" y2="582.79" stroke="#000" stroke-width="1"/>
<line x1="239.30" y1="575.95" x2="241.50" y2="575.95" stroke="#000" stroke-width="1"/>
<line x1="239.30" y1="569.11" x2="241.50" y2="569.11" stroke="#000" stroke-width="1"/>
<line x1="236.50" y1="562.26" x2="241.50" y2="562.26" stroke="#000" stroke-width="1"/>
<line x1="239.30" y1="555.41" x2="241.50" y2="555.41" stroke="#000" stroke-width="1"/>
<text x="210.41" y="648.90" font-size="10.0" fill="#000" textLength="19.59" lengthAdjust="spacingAndGlyphs">0.00</text>
<text x="210.41" y="621.52" font-size="10.0" fill="#000" textLength="19.59" lengthAdjust="spacingAndGlyphs">0.20</text>
<text x="210.41" y="594.14" font-size="10.0" fill="#000" textLength="19.59" lengthAdjust="spacingAndGlyphs">0.40</text>
<text x="210.41" y="566.76" font-size="10.0" fill="#000" textLength="19.59" lengthAdjust="spacingAndGlyphs">0.60</text>
<text x="201.78" y="605.70" font-size="10.0" fill="#000" textLength="14.21" lengthAdjust="spacingAndGlyphs">AU</text>
<line x1="247.50" y1="648.50" x2="247.50" y2="651.50" stroke="#000" stroke-width="1"/>
<line x1="255.70" y1="648.50" x2="255.70" y2="651.50" stroke="#000" stroke-width="1"/>
<line x1="263.90" y1="648.50" x2="263.90" y2="651.50" stroke="#000" stroke-width="1"/>
<line x1="272.10" y1="648.50" x2="272.10" y2="651.50" stroke="#000" stroke-width="1"/>
<line x1="280.30" y1="648.50" x2="280.30" y2="654.00" stroke="#000" stroke-width="1"/>
<line x1="288.50" y1="648.50" x2="288.50" y2="651.50" stroke="#000" stroke-width="1"/>
<line x1="296.70" y1="648.50" x2="296.70" y2="651.50" stroke="#000" stroke-width="1"/>
<line x1="304.90" y1="648.50" x2="304.90" y2="651.50" stroke="#000" stroke-width="1"/>
<line x1="313.10" y1="648.50" x2="313.10" y2="651.50" stroke="#000" stroke-width="1"/>
<line x1="321.30" y1="648.50" x2="321.30" y2="654.00" stroke="#000" stroke-width="1"/>
<line x1="329.50" y1="648.50" x2="329.50" y2="651.50" stroke="#000" stroke-width="1"/>
<line x1="337.70" y1="648.50" x2="337.70" y2="651.50" stroke="#000" stroke-width="1"/>
<line x1="345.90" y1="648.50" x2="345.90" y2="651.50" stroke="#000" stroke-width="1"/>
<line x1="354.10" y1="648.50" x2="354.10" y2="651.50" stroke="#000" stroke-width="1"/>
<text x="261.12" y="663.80" font-size="10.0" fill="#000" textLength="30.37" lengthAdjust="spacingAndGlyphs">300.00</text>
<text x="302.27" y="663.80" font-size="10.0" fill="#000" textLength="30.21" lengthAdjust="spacingAndGlyphs">400.00</text>
<text x="291.10" y="680.80" font-size="10.0" fill="#000" textLength="14.59" lengthAdjust="spacingAndGlyphs">nm</text>
<path d="M241.60,616.30 C241.77,616.90 242.28,618.67 242.60,619.90 C242.92,621.13 243.15,622.35 243.50,623.70 C243.85,625.05 244.25,626.72 244.70,628.00 C245.15,629.28 245.68,630.57 246.20,631.40 C246.72,632.23 247.25,632.80 247.80,633.00 C248.35,633.20 248.90,633.03 249.50,632.60 C250.10,632.17 250.77,631.17 251.40,630.40 C252.03,629.63 252.67,628.80 253.30,628.00 C253.93,627.20 254.57,626.32 255.20,625.60 C255.83,624.88 256.47,624.05 257.10,623.70 C257.73,623.35 258.43,623.37 259.00,623.50 C259.57,623.63 260.02,623.95 260.50,624.50 C260.98,625.05 261.35,625.82 261.90,626.80 C262.45,627.78 263.17,629.32 263.80,630.40 C264.43,631.48 264.98,632.47 265.70,633.30 C266.42,634.13 267.30,634.85 268.10,635.40 C268.90,635.95 269.78,636.35 270.50,636.60 C271.22,636.85 271.45,637.07 272.40,636.90 C273.35,636.73 274.87,635.93 276.20,635.60 C277.53,635.27 279.00,635.13 280.40,634.90 C281.80,634.67 283.20,634.60 284.60,634.20 C286.00,633.80 287.38,633.13 288.80,632.50 C290.22,631.87 291.68,631.28 293.10,630.40 C294.52,629.52 295.90,628.38 297.30,627.20 C298.70,626.02 300.22,624.70 301.50,623.30 C302.78,621.90 303.95,620.48 305.00,618.80 C306.05,617.12 306.93,615.23 307.80,613.20 C308.67,611.17 309.52,608.58 310.20,606.60 C310.88,604.62 311.15,603.72 311.90,601.30 C312.65,598.88 313.75,595.18 314.70,592.10 C315.65,589.02 316.62,585.88 317.60,582.80 C318.58,579.72 319.68,576.40 320.60,573.60 C321.52,570.80 322.33,568.12 323.10,566.00 C323.87,563.88 324.50,562.17 325.20,560.90 C325.90,559.63 326.60,558.88 327.30,558.40 C328.00,557.92 328.70,557.72 329.40,558.00 C330.10,558.28 330.80,559.05 331.50,560.10 C332.20,561.15 332.90,562.62 333.60,564.30 C334.30,565.98 335.00,567.95 335.70,570.20 C336.40,572.45 337.17,575.28 337.80,577.80 C338.43,580.32 339.02,582.85 339.50,585.30 C339.98,587.75 340.12,589.43 340.70,592.50 C341.28,595.57 342.25,599.97 343.00,603.70 C343.75,607.43 344.37,611.15 345.20,614.90 C346.03,618.65 346.97,622.63 348.00,626.20 C349.03,629.77 350.08,633.58 351.40,636.30 C352.72,639.02 354.30,641.10 355.90,642.50 C357.50,643.90 360.15,644.33 361.00,644.70" fill="none" stroke="#ff0000" stroke-width="1.1"/>
<text x="248.24" y="619.60" font-size="12.4" fill="#ff0000" textLength="27.89" lengthAdjust="spacingAndGlyphs" stroke="#ff0000" stroke-width="0.2">247.4</text>
<text x="313.05" y="563.90" font-size="12.4" fill="#ff0000" textLength="27.53" lengthAdjust="spacingAndGlyphs" stroke="#ff0000" stroke-width="0.2">415.8</text>
<text x="352.03" y="565.90" font-size="12.6" fill="#000" font-weight="bold" textLength="6.60" lengthAdjust="spacingAndGlyphs">3</text>
<rect x="441.5" y="552.5" width="121" height="96" fill="none" stroke="#000" stroke-width="1"/>
<text x="441.53" y="549.60" font-size="10.0" fill="#000" textLength="57.65" lengthAdjust="spacingAndGlyphs">3.372 Peak 1</text>
<line x1="436.50" y1="644.40" x2="441.50" y2="644.40" stroke="#000" stroke-width="1"/>
<line x1="439.30" y1="638.28" x2="441.50" y2="638.28" stroke="#000" stroke-width="1"/>
<line x1="439.30" y1="632.16" x2="441.50" y2="632.16" stroke="#000" stroke-width="1"/>
<line x1="439.30" y1="626.04" x2="441.50" y2="626.04" stroke="#000" stroke-width="1"/>
<line x1="439.30" y1="619.92" x2="441.50" y2="619.92" stroke="#000" stroke-width="1"/>
<line x1="436.50" y1="613.80" x2="441.50" y2="613.80" stroke="#000" stroke-width="1"/>
<line x1="439.30" y1="607.68" x2="441.50" y2="607.68" stroke="#000" stroke-width="1"/>
<line x1="439.30" y1="601.56" x2="441.50" y2="601.56" stroke="#000" stroke-width="1"/>
<line x1="439.30" y1="595.44" x2="441.50" y2="595.44" stroke="#000" stroke-width="1"/>
<line x1="439.30" y1="589.32" x2="441.50" y2="589.32" stroke="#000" stroke-width="1"/>
<line x1="436.50" y1="583.20" x2="441.50" y2="583.20" stroke="#000" stroke-width="1"/>
<line x1="439.30" y1="577.08" x2="441.50" y2="577.08" stroke="#000" stroke-width="1"/>
<line x1="439.30" y1="570.96" x2="441.50" y2="570.96" stroke="#000" stroke-width="1"/>
<line x1="439.30" y1="564.84" x2="441.50" y2="564.84" stroke="#000" stroke-width="1"/>
<line x1="439.30" y1="558.72" x2="441.50" y2="558.72" stroke="#000" stroke-width="1"/>
<line x1="436.50" y1="552.60" x2="441.50" y2="552.60" stroke="#000" stroke-width="1"/>
<text x="411.01" y="648.90" font-size="10.0" fill="#000" textLength="19.59" lengthAdjust="spacingAndGlyphs">0.00</text>
<text x="411.01" y="618.30" font-size="10.0" fill="#000" textLength="19.59" lengthAdjust="spacingAndGlyphs">0.10</text>
<text x="411.01" y="587.70" font-size="10.0" fill="#000" textLength="19.59" lengthAdjust="spacingAndGlyphs">0.20</text>
<text x="411.01" y="557.10" font-size="10.0" fill="#000" textLength="19.59" lengthAdjust="spacingAndGlyphs">0.30</text>
<text x="401.78" y="598.60" font-size="10.0" fill="#000" textLength="14.21" lengthAdjust="spacingAndGlyphs">AU</text>
<line x1="447.18" y1="648.50" x2="447.18" y2="651.50" stroke="#000" stroke-width="1"/>
<line x1="455.46" y1="648.50" x2="455.46" y2="651.50" stroke="#000" stroke-width="1"/>
<line x1="463.74" y1="648.50" x2="463.74" y2="651.50" stroke="#000" stroke-width="1"/>
<line x1="472.02" y1="648.50" x2="472.02" y2="651.50" stroke="#000" stroke-width="1"/>
<line x1="480.30" y1="648.50" x2="480.30" y2="654.00" stroke="#000" stroke-width="1"/>
<line x1="488.58" y1="648.50" x2="488.58" y2="651.50" stroke="#000" stroke-width="1"/>
<line x1="496.86" y1="648.50" x2="496.86" y2="651.50" stroke="#000" stroke-width="1"/>
<line x1="505.14" y1="648.50" x2="505.14" y2="651.50" stroke="#000" stroke-width="1"/>
<line x1="513.42" y1="648.50" x2="513.42" y2="651.50" stroke="#000" stroke-width="1"/>
<line x1="521.70" y1="648.50" x2="521.70" y2="654.00" stroke="#000" stroke-width="1"/>
<line x1="529.98" y1="648.50" x2="529.98" y2="651.50" stroke="#000" stroke-width="1"/>
<line x1="538.26" y1="648.50" x2="538.26" y2="651.50" stroke="#000" stroke-width="1"/>
<line x1="546.54" y1="648.50" x2="546.54" y2="651.50" stroke="#000" stroke-width="1"/>
<line x1="554.82" y1="648.50" x2="554.82" y2="651.50" stroke="#000" stroke-width="1"/>
<text x="461.12" y="663.80" font-size="10.0" fill="#000" textLength="30.37" lengthAdjust="spacingAndGlyphs">300.00</text>
<text x="502.67" y="663.80" font-size="10.0" fill="#000" textLength="30.21" lengthAdjust="spacingAndGlyphs">400.00</text>
<text x="491.30" y="680.80" font-size="10.0" fill="#000" textLength="14.59" lengthAdjust="spacingAndGlyphs">nm</text>
<path d="M441.90,583.10 C442.25,582.18 443.25,579.30 444.00,577.60 C444.75,575.90 445.75,573.97 446.40,572.90 C447.05,571.83 447.45,571.32 447.90,571.20 C448.35,571.08 448.68,571.70 449.10,572.20 C449.52,572.70 450.02,574.08 450.40,574.20 C450.78,574.32 451.07,574.02 451.40,572.90 C451.73,571.78 452.05,569.13 452.40,567.50 C452.75,565.87 453.15,564.45 453.50,563.10 C453.85,561.75 454.12,560.18 454.50,559.40 C454.88,558.62 455.35,558.40 455.80,558.40 C456.25,558.40 456.78,558.67 457.20,559.40 C457.62,560.13 457.92,560.90 458.30,562.80 C458.68,564.70 459.15,567.93 459.50,570.80 C459.85,573.67 460.08,576.83 460.40,580.00 C460.72,583.17 461.03,586.53 461.40,589.80 C461.77,593.07 462.17,596.33 462.60,599.60 C463.03,602.87 463.50,606.13 464.00,609.40 C464.50,612.67 465.05,615.93 465.60,619.20 C466.15,622.47 466.70,626.05 467.30,629.00 C467.90,631.95 468.47,634.68 469.20,636.90 C469.93,639.12 470.80,641.08 471.70,642.30 C472.60,643.52 473.30,643.85 474.60,644.20 C475.90,644.55 477.77,644.40 479.50,644.40 C481.23,644.40 483.25,644.28 485.00,644.20 C486.75,644.12 488.17,643.90 490.00,643.90 C491.83,643.90 493.83,644.12 496.00,644.20 C498.17,644.28 497.33,644.37 503.00,644.40 C508.67,644.43 520.17,644.40 530.00,644.40 C539.83,644.40 556.67,644.40 562.00,644.40" fill="none" stroke="#ff0000" stroke-width="1.1"/>
<text x="441.85" y="563.80" font-size="12.4" fill="#ff0000" textLength="27.38" lengthAdjust="spacingAndGlyphs" stroke="#ff0000" stroke-width="0.2">240.0</text>
<text x="474.37" y="640.60" font-size="12.4" fill="#ff0000" textLength="28.30" lengthAdjust="spacingAndGlyphs" stroke="#ff0000" stroke-width="0.2">321.2</text>
<text x="550.91" y="566.00" font-size="12" fill="#000" font-weight="bold" textLength="6.96" lengthAdjust="spacingAndGlyphs">4</text>
<text x="10.2" y="706.2" font-size="12.4" fill="#111" textLength="756" lengthAdjust="spacingAndGlyphs"><tspan font-weight="bold">Figure 3:</tspan> (a) UPLC-MS of a mixture of curcuminoids, roots of <tspan font-style="italic">C. longa</tspan> L. and dietary supplement, (b) UV spectra of compounds 1-4.</text>
</svg></body></html>
